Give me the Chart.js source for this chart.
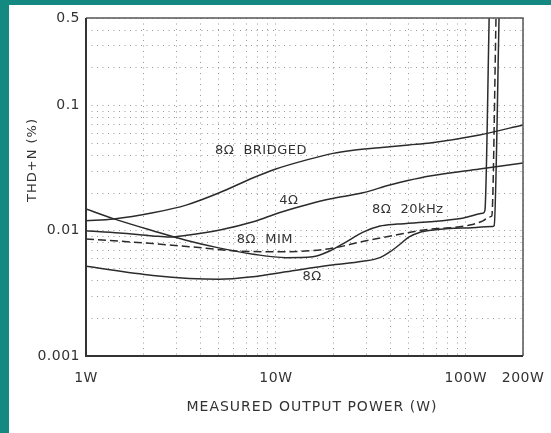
<!DOCTYPE html>
<html>
<head>
<meta charset="utf-8">
<script src="https://cdn.jsdelivr.net/npm/chart.js@4/dist/chart.umd.min.js"></script>
<style>
  html, body { margin: 0; padding: 0; background: #fff; }
</style>
</head>
<body>
<canvas id="thd" width="551" height="433"></canvas>
<script>
'use strict';

// THD+N vs measured output power
const bridgedW   = [1, 1.4, 2.25, 3.4, 5, 7.6, 9.9, 14.7, 20, 25, 35, 50, 65, 118, 200];
const bridgedThd = [0.0120, 0.0124, 0.0139, 0.0161, 0.0200, 0.0265, 0.0310, 0.0370, 0.0415, 0.0437, 0.0460, 0.0485, 0.0503, 0.0582, 0.0700];

const fourW   = [1, 1.5, 2.25, 2.75, 3.4, 5, 7.6, 10.5, 14.7, 19.2, 28.7, 39.8, 49.5, 64.6, 118, 200];
const fourThd = [0.0100, 0.0096, 0.0091, 0.0089, 0.0092, 0.0101, 0.0118, 0.0140, 0.0162, 0.0179, 0.0201, 0.0232, 0.0252, 0.0274, 0.0312, 0.0348];

const khz20W   = [1, 1.39, 2.25, 3.36, 5, 7.6, 11.3, 15.6, 19.2, 23.6, 28.6, 35.3, 43.5, 64.6, 96, 123, 126, 133];
const khz20Thd = [0.0149, 0.0125, 0.0100, 0.0084, 0.0073, 0.0065, 0.0061, 0.0062, 0.0069, 0.0082, 0.0097, 0.0109, 0.0113, 0.0118, 0.0126, 0.0138, 0.0145, 0.6];

const mimW   = [1, 2.25, 4.1, 6.2, 11.3, 19.2, 28.6, 43.4, 64.6, 79, 105, 123, 133, 137, 144.5];
const mimThd = [0.0086, 0.0079, 0.0073, 0.0069, 0.0068, 0.0072, 0.0082, 0.0093, 0.0103, 0.0105, 0.0111, 0.0120, 0.0129, 0.0131, 0.6];

const eightW   = [1, 2.25, 5, 7.6, 11.3, 19.2, 28.6, 35.3, 40, 45, 50, 57, 66, 96.4, 138, 141, 150];
const eightThd = [0.0052, 0.0044, 0.0041, 0.0043, 0.0047, 0.0053, 0.0057, 0.0061, 0.0068, 0.0078, 0.0089, 0.0097, 0.0101, 0.0105, 0.0108, 0.0110, 0.6];

// axis grid values and the ones that carry a label
const xGrid   = [1, 2, 3, 4, 5, 6, 7, 8, 9, 10, 20, 30, 40, 50, 60, 70, 80, 90, 100, 200];
const xLabels = { 1: '1W', 10: '10W', 100: '100W', 200: '200W' };
const yGrid   = [0.001, 0.002, 0.003, 0.004, 0.005, 0.006, 0.007, 0.008, 0.009,
                 0.01, 0.02, 0.03, 0.04, 0.05, 0.06, 0.07, 0.08, 0.09,
                 0.1, 0.2, 0.3, 0.4, 0.5];
const yLabels = { 0.001: '0.001', 0.01: '0.01', 0.1: '0.1', 0.5: '0.5' };

// curve labels, placed in data coordinates [W, THD]
const curveNames = ['8Ω  BRIDGED', '4Ω', '8Ω  20kHz', '8Ω  MIM', '8Ω'];
const curveNameAt = [[8.34, 0.0434], [11.7, 0.0173], [49.5, 0.01466], [8.75, 0.00844], [15.5, 0.00428]];

const INK = '#2b2b2b';
const FONT = 'DejaVu Sans';

function toPoints(xs, ys) {
   return xs.map(function (x, i) { return { x: x, y: ys[i] }; });
}

function line(xs, ys, dashed) {
   return {
      data: toPoints(xs, ys),
      borderColor: INK,
      borderWidth: 1.5,
      borderDash: dashed ? [8, 4] : [],
      pointRadius: 0,
      fill: false,
      cubicInterpolationMode: 'monotone'
   };
}

// background strips, plot frame, curve names and axis titles
const decor = {
   id: 'decor',
   beforeDraw: function (chart) {
      const ctx = chart.ctx;
      ctx.save();
      ctx.fillStyle = '#ffffff';
      ctx.fillRect(0, 0, chart.width, chart.height);
      ctx.fillStyle = '#138981';
      ctx.fillRect(0, 0, 9, chart.height);
      ctx.fillRect(0, 0, chart.width, 5);
      ctx.restore();
      ctx.letterSpacing = '0.5px';
   },
   afterDatasetsDraw: function (chart) {
      const ctx = chart.ctx;
      const a = chart.chartArea;
      const xs = chart.scales.x, ys = chart.scales.y;
      ctx.save();
      // frame
      ctx.strokeStyle = '#555';
      ctx.lineWidth = 1.5;
      ctx.beginPath();
      ctx.moveTo(a.left, a.top);
      ctx.lineTo(a.right, a.top);
      ctx.lineTo(a.right, a.bottom);
      ctx.stroke();
      ctx.strokeStyle = '#333';
      ctx.lineWidth = 2;
      ctx.beginPath();
      ctx.moveTo(a.left, a.top);
      ctx.lineTo(a.left, a.bottom);
      ctx.lineTo(a.right, a.bottom);
      ctx.stroke();

      // curve names
      ctx.fillStyle = '#333';
      ctx.textAlign = 'center';
      ctx.textBaseline = 'middle';
      ctx.letterSpacing = '0.5px';
      ctx.font = '13px "' + FONT + '"';
      curveNames.forEach(function (name, i) {
         ctx.fillText(name, xs.getPixelForValue(curveNameAt[i][0]), ys.getPixelForValue(curveNameAt[i][1]));
      });

      // axis titles
      ctx.letterSpacing = '1px';
      ctx.font = '14px "' + FONT + '"';
      ctx.fillText('MEASURED OUTPUT POWER (W)', 312, 407);
      ctx.translate(33, 160);
      ctx.rotate(-Math.PI / 2);
      ctx.font = '13px "' + FONT + '"';
      ctx.fillText('THD+N (%)', 0, 0);
      ctx.restore();
   }
};

new Chart(document.getElementById('thd'), {
   type: 'line',
   data: {
      datasets: [
         line(bridgedW, bridgedThd),
         line(fourW, fourThd),
         line(khz20W, khz20Thd),
         line(mimW, mimThd, true),
         line(eightW, eightThd)
      ]
   },
   options: {
      responsive: false,
      animation: false,
      devicePixelRatio: 1,
      layout: { padding: { left: 0, right: 28, top: 18, bottom: 0 } },
      plugins: { legend: { display: false }, tooltip: { enabled: false } },
      scales: {
         x: {
            type: 'logarithmic',
            min: 1,
            max: 200,
            afterBuildTicks: function (s) { s.ticks = xGrid.map(function (v) { return { value: v }; }); },
            afterFit: function (s) {
               s.height = 77;
               s.paddingLeft = 0;
               s.paddingRight = 0;
            },
            ticks: {
               autoSkip: false,
               maxRotation: 0,
               padding: 14,
               color: '#333',
               font: { family: FONT, size: 14 },
               callback: function (v) { return xLabels[v] || ''; }
            },
            grid: { color: '#999', lineWidth: 1, drawTicks: false },
            border: { display: false, dash: [1, 4.5] }
         },
         y: {
            type: 'logarithmic',
            min: 0.001,
            max: 0.5,
            afterBuildTicks: function (s) { s.ticks = yGrid.map(function (v) { return { value: v }; }); },
            afterFit: function (s) {
               s.width = 86;
               s.paddingTop = 0;
               s.paddingBottom = 0;
            },
            ticks: {
               autoSkip: false,
               padding: 6,
               color: '#333',
               font: { family: FONT, size: 14 },
               callback: function (v) { return yLabels[v] || ''; }
            },
            grid: { color: '#999', lineWidth: 1, drawTicks: false },
            border: { display: false, dash: [1, 4.5] }
         }
      }
   },
   plugins: [decor]
});
</script>
</body>
</html>
